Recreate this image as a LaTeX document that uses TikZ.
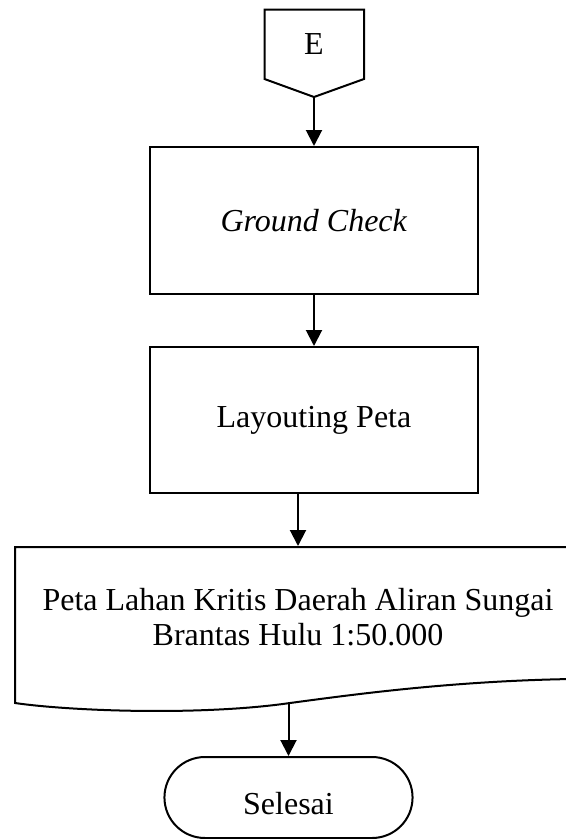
\documentclass[tikz,border=0pt]{standalone}
\usepackage{fontspec}
\setmainfont{Liberation Serif}
\usetikzlibrary{shapes.misc, arrows.meta}

\begin{document}
\begin{tikzpicture}[x=0.75pt, y=-0.75pt, line width=1.5pt,
        font=\fontsize{24}{26.25}\selectfont,
        proses/.style={rectangle, draw, minimum width=246pt, inner sep=0pt},
        panah/.style={-{Triangle[length=12pt, width=12pt]}}]
        \useasboundingbox (0,0) rectangle (566,839);

        % penghubung halaman
        \node (e) at (314, 44) {E};
        \coordinate (etip) at (314, 97);
        \draw (etip) -- (364, 79) -- (364, 9.5) -- (264.5, 9.5) -- (264.5, 79) -- cycle;

        \node[proses, minimum height=110.25pt] (gc) at (314, 220.5) {\textit{Ground Check}};
        \node[proses, minimum height=109.5pt] (lp) at (314, 420) {Layouting Peta};

        % dokumen
        \node[align=center, minimum height=105.75pt, inner sep=0pt] (doc) at (298, 617.5)
            {Peta Lahan Kritis Daerah Aliran Sungai\\Brantas Hulu 1:50.000};
        \coordinate (docbot) at (290, 704);
        \draw (15, 547) -- (15, 703)
            .. controls (70, 711) and (200, 716) .. (290, 703)
            .. controls (350, 695) and (450, 681) .. (572, 679)
            -- (572, 547) -- cycle;

        \node[rounded rectangle, draw, minimum width=192.75pt, minimum height=60.75pt,
            text height=24.75pt, text depth=0pt] (sel) at (288.5, 797.5) {Selesai};

        \draw[panah] (etip) -- (gc);
        \draw[panah] (gc) -- (lp);
        \draw[panah] (doc.north |- lp.south) -- (doc.north);
        \draw[panah] (sel.north |- docbot) -- (sel.north);
    \end{tikzpicture}
\end{document}
